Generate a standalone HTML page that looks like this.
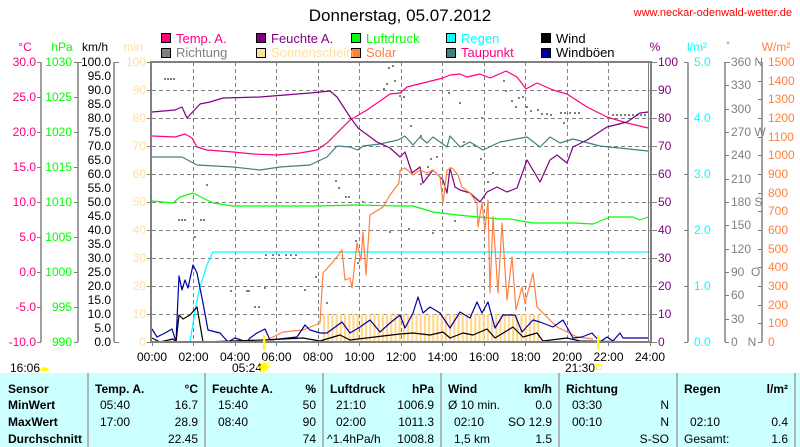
<!DOCTYPE html>
<html><head><meta charset="utf-8"><style>
html,body{margin:0;padding:0;background:#fff;}
svg{display:block;font-family:"Liberation Sans",sans-serif;}
</style></head><body>
<svg width="800" height="447" viewBox="0 0 800 447" xmlns="http://www.w3.org/2000/svg">
<defs>
<pattern id="sun" x="323" y="0" width="4.2" height="10" patternUnits="userSpaceOnUse">
<rect x="0" y="0" width="2.2" height="10" fill="#ffd890"/>
</pattern>
</defs>
<text x="400" y="21" font-size="17" text-anchor="middle" fill="#000">Donnerstag, 05.07.2012</text>
<text x="792" y="16" font-size="11" text-anchor="end" fill="#ff0000">www.neckar-odenwald-wetter.de</text>
<g font-size="13" stroke="#000" stroke-width="1">
<rect x="161.5" y="33.5" width="9" height="9" fill="#ff0080"/>
<rect x="161.5" y="48.5" width="9" height="9" fill="#808080"/>
<rect x="256.5" y="33.5" width="9" height="9" fill="#800080"/>
<rect x="256.5" y="48.5" width="9" height="9" fill="#ffe0a0"/>
<rect x="351.5" y="33.5" width="9" height="9" fill="#00ff00"/>
<rect x="351.5" y="48.5" width="9" height="9" fill="#ff8040"/>
<rect x="446.5" y="33.5" width="9" height="9" fill="#00ffff"/>
<rect x="446.5" y="48.5" width="9" height="9" fill="#408080"/>
<rect x="541.5" y="33.5" width="9" height="9" fill="#000"/>
<rect x="541.5" y="48.5" width="9" height="9" fill="#0000a0"/>
</g>
<g font-size="13">
<text x="176" y="43" fill="#ff0080">Temp. A.</text>
<text x="176" y="57" fill="#808080">Richtung</text>
<text x="271" y="43" fill="#800080">Feuchte A.</text>
<text x="271" y="57" fill="#ffe0a0">Sonnenschein</text>
<text x="366" y="43" fill="#00ff00">Luftdruck</text>
<text x="366" y="57" fill="#ff8040">Solar</text>
<text x="461" y="43" fill="#00ffff">Regen</text>
<text x="461" y="57" fill="#ff0080">Taupunkt</text>
<text x="556" y="43" fill="#000">Wind</text>
<text x="556" y="57" fill="#000">Windböen</text>
</g>
<g font-size="12">
<text x="25" y="51" fill="#ff0080" text-anchor="middle">°C</text>
<text x="62" y="51" fill="#00ff00" text-anchor="middle">hPa</text>
<text x="95" y="51" fill="#000" text-anchor="middle">km/h</text>
<text x="133" y="51" fill="#ffe0a0" text-anchor="middle">min</text>
<text x="655" y="51" fill="#800080" text-anchor="middle">%</text>
<text x="697" y="51" fill="#00ffff" text-anchor="middle">l/m²</text>
<text x="728" y="48" fill="#808080" text-anchor="middle" font-size="9">°</text>
<text x="776" y="51" fill="#ff8040" text-anchor="middle">W/m²</text>
</g>
<g stroke="#808080" stroke-width="1.5" fill="none">
<line x1="41" y1="62" x2="41" y2="342"/>
<line x1="78" y1="62" x2="78" y2="342"/>
<line x1="114" y1="62" x2="114" y2="342"/>
<line x1="688" y1="62" x2="688" y2="342"/>
<line x1="725" y1="62" x2="725" y2="342"/>
<line x1="762" y1="62" x2="762" y2="342"/>
</g>
<g font-size="12" text-anchor="end">
<g fill="#ff0080">
<text x="36" y="66">30.0</text><text x="36" y="101">25.0</text><text x="36" y="136">20.0</text><text x="36" y="171">15.0</text><text x="36" y="206">10.0</text><text x="36" y="241">5.0</text><text x="36" y="276">0.0</text><text x="36" y="311">-5.0</text><text x="36" y="346">-10.0</text>
</g>
<g fill="#00ff00">
<text x="72" y="66">1030</text><text x="72" y="101">1025</text><text x="72" y="136">1020</text><text x="72" y="171">1015</text><text x="72" y="206">1010</text><text x="72" y="241">1005</text><text x="72" y="276">1000</text><text x="72" y="311">995</text><text x="72" y="346">990</text>
</g>
<g fill="#000">
<text x="111" y="66">100.0</text><text x="111" y="80">95.0</text><text x="111" y="94">90.0</text><text x="111" y="108">85.0</text><text x="111" y="122">80.0</text><text x="111" y="136">75.0</text><text x="111" y="150">70.0</text><text x="111" y="164">65.0</text><text x="111" y="178">60.0</text><text x="111" y="192">55.0</text><text x="111" y="206">50.0</text><text x="111" y="220">45.0</text><text x="111" y="234">40.0</text><text x="111" y="248">35.0</text><text x="111" y="262">30.0</text><text x="111" y="276">25.0</text><text x="111" y="290">20.0</text><text x="111" y="304">15.0</text><text x="111" y="318">10.0</text><text x="111" y="332">5.0</text><text x="111" y="346">0.0</text>
</g>
<g fill="#ffe0a0">
<text x="146" y="66">100</text><text x="146" y="94">90</text><text x="146" y="122">80</text><text x="146" y="150">70</text><text x="146" y="178">60</text><text x="146" y="206">50</text><text x="146" y="234">40</text><text x="146" y="262">30</text><text x="146" y="290">20</text><text x="146" y="318">10</text><text x="146" y="346">0</text>
</g>
</g>
<g font-size="12">
<g fill="#800080">
<text x="658" y="66">100</text><text x="658" y="94">90</text><text x="658" y="122">80</text><text x="658" y="150">70</text><text x="658" y="178">60</text><text x="658" y="206">50</text><text x="658" y="234">40</text><text x="658" y="262">30</text><text x="658" y="290">20</text><text x="658" y="318">10</text><text x="658" y="346">0</text>
</g>
<g fill="#00ffff">
<text x="694" y="66">5.0</text><text x="694" y="122">4.0</text><text x="694" y="178">3.0</text><text x="694" y="234">2.0</text><text x="694" y="290">1.0</text><text x="694" y="346">0.0</text>
</g>
<g fill="#808080">
<text x="731" y="66">360 N</text><text x="731" y="89">330</text><text x="731" y="113">300</text><text x="731" y="136">270 W</text><text x="731" y="159">240</text><text x="731" y="183">210</text><text x="731" y="206">180 S</text><text x="731" y="229">150</text><text x="731" y="253">120</text><text x="731" y="276">90 &#160;O</text><text x="731" y="299">60</text><text x="731" y="323">30</text><text x="731" y="346">0 &#160;&#160;N</text>
</g>
<g fill="#ff8040">
<text x="768" y="66">1500</text><text x="768" y="85">1400</text><text x="768" y="103">1300</text><text x="768" y="122">1200</text><text x="768" y="141">1100</text><text x="768" y="159">1000</text><text x="768" y="178">900</text><text x="768" y="197">800</text><text x="768" y="215">700</text><text x="768" y="234">600</text><text x="768" y="253">500</text><text x="768" y="271">400</text><text x="768" y="290">300</text><text x="768" y="309">200</text><text x="768" y="327">100</text><text x="768" y="346">0</text>
</g>
</g>
<g stroke="#808080" stroke-width="1">
<path d="M37 62.5h4M37 97.5h4M37 132.5h4M37 167.5h4M37 202.5h4M37 237.5h4M37 272.5h4M37 307.5h4M37 342.5h4"/>
<path d="M74 62.5h8M74 97.5h4M74 132.5h4M74 167.5h4M74 202.5h4M74 237.5h4M74 272.5h4M74 307.5h4M74 342.5h4"/>
<path d="M114 62.5h5M114 342.5h5"/>
<path d="M147 62.5h4M147 90.5h4M147 118.5h4M147 146.5h4M147 174.5h4M147 202.5h4M147 230.5h4M147 258.5h4M147 286.5h4M147 314.5h4M147 342.5h4"/>
<path d="M652 62.5h5M652 90.5h5M652 118.5h5M652 146.5h5M652 174.5h5M652 202.5h5M652 230.5h5M652 258.5h5M652 286.5h5M652 314.5h5M652 342.5h5"/>
<path d="M684 62.5h4M684 118.5h4M684 174.5h4M684 230.5h4M684 286.5h4M684 342.5h4"/>
<path d="M725 62.5h5M725 85.5h4M725 109.5h4M725 132.5h4M725 155.5h4M725 179.5h4M725 202.5h4M725 225.5h4M725 249.5h4M725 272.5h4M725 295.5h4M725 319.5h4M725 342.5h4"/>
<path d="M758 62.5h4M758 81.5h4M758 99.5h4M758 118.5h4M758 137.5h4M758 155.5h4M758 174.5h4M758 193.5h4M758 211.5h4M758 230.5h4M758 249.5h4M758 267.5h4M758 286.5h4M758 305.5h4M758 323.5h4M758 342.5h4"/>
<path d="M152.5 342v4M193.5 342v4M235.5 342v4M276.5 342v4M318.5 342v4M359.5 342v4M401.5 342v4M442.5 342v4M484.5 342v4M525.5 342v4M567.5 342v4M608.5 342v4M650.5 342v4"/>
</g>
<g stroke="#808080" stroke-width="1" stroke-dasharray="4,3" shape-rendering="crispEdges">
<path d="M152 90.5h498M152 118.5h498M152 146.5h498M152 174.5h498M152 202.5h498M152 230.5h498M152 258.5h498M152 286.5h498M152 314.5h498"/>
<path d="M193.5 62v280M235.5 62v280M276.5 62v280M318.5 62v280M359.5 62v280M401.5 62v280M442.5 62v280M484.5 62v280M525.5 62v280M567.5 62v280M608.5 62v280"/>
</g>
<rect x="323" y="314" width="218" height="28" fill="url(#sun)"/>
<g fill="#808080">
<rect x="164" y="78" width="2" height="2"/><rect x="167" y="78" width="2" height="2"/><rect x="170" y="78" width="2" height="2"/><rect x="173" y="78" width="2" height="2"/>
<rect x="178" y="219" width="2" height="2"/><rect x="181" y="219" width="2" height="2"/><rect x="184" y="219" width="2" height="2"/><rect x="200" y="219" width="2" height="2"/><rect x="203" y="219" width="2" height="2"/>
<rect x="206" y="184" width="2" height="2"/><rect x="194" y="236" width="2" height="2"/>
<rect x="265" y="254" width="2" height="2"/><rect x="272" y="254" width="2" height="2"/><rect x="278" y="254" width="2" height="2"/><rect x="285" y="254" width="2" height="2"/><rect x="290" y="254" width="2" height="2"/><rect x="295" y="254" width="2" height="2"/>
<rect x="264" y="287" width="2" height="2"/><rect x="246" y="290" width="2" height="2"/><rect x="230" y="290" width="2" height="2"/><rect x="248" y="290" width="2" height="2"/>
<rect x="254" y="306" width="2" height="2"/><rect x="258" y="306" width="2" height="2"/>
<rect x="304" y="289" width="2" height="2"/><rect x="315" y="276" width="2" height="2"/><rect x="326" y="302" width="2" height="2"/>
<rect x="335" y="180" width="2" height="2"/><rect x="338" y="187" width="2" height="2"/><rect x="345" y="196" width="2" height="2"/><rect x="348" y="196" width="2" height="2"/><rect x="355" y="240" width="2" height="2"/><rect x="357" y="262" width="2" height="2"/><rect x="362" y="201" width="2" height="2"/>
<rect x="388" y="67" width="2" height="2"/><rect x="392" y="65" width="2" height="2"/><rect x="386" y="83" width="2" height="2"/><rect x="383" y="88" width="2" height="2"/><rect x="394" y="80" width="2" height="2"/>
<rect x="399" y="95" width="2" height="2"/><rect x="403" y="96" width="2" height="2"/><rect x="410" y="125" width="2" height="2"/><rect x="420" y="135" width="2" height="2"/><rect x="430" y="158" width="2" height="2"/><rect x="427" y="166" width="2" height="2"/><rect x="420" y="183" width="2" height="2"/><rect x="436" y="156" width="2" height="2"/>
<rect x="448" y="92" width="2" height="2"/><rect x="459" y="102" width="2" height="2"/><rect x="463" y="141" width="2" height="2"/><rect x="473" y="144" width="2" height="2"/><rect x="480" y="158" width="2" height="2"/><rect x="487" y="181" width="2" height="2"/><rect x="492" y="172" width="2" height="2"/><rect x="481" y="117" width="2" height="2"/>
<rect x="505" y="90" width="2" height="2"/><rect x="503" y="80" width="2" height="2"/><rect x="511" y="100" width="2" height="2"/><rect x="515" y="106" width="2" height="2"/><rect x="518" y="97" width="2" height="2"/><rect x="522" y="96" width="2" height="2"/>
<rect x="526" y="106" width="2" height="2"/><rect x="530" y="110" width="2" height="2"/><rect x="537" y="109" width="2" height="2"/><rect x="541" y="113" width="2" height="2"/><rect x="546" y="113" width="2" height="2"/><rect x="550" y="114" width="2" height="2"/>
<rect x="560" y="112" width="2" height="2"/><rect x="564" y="112" width="2" height="2"/><rect x="569" y="112" width="2" height="2"/><rect x="574" y="112" width="2" height="2"/><rect x="578" y="112" width="2" height="2"/><rect x="563" y="122" width="2" height="2"/>
<rect x="612" y="114" width="2" height="2"/><rect x="616" y="114" width="2" height="2"/><rect x="620" y="114" width="2" height="2"/><rect x="624" y="114" width="2" height="2"/><rect x="628" y="114" width="2" height="2"/><rect x="632" y="114" width="2" height="2"/><rect x="636" y="114" width="2" height="2"/><rect x="640" y="114" width="2" height="2"/><rect x="644" y="114" width="2" height="2"/>
<rect x="408" y="228" width="2" height="2"/><rect x="432" y="232" width="2" height="2"/><rect x="454" y="220" width="2" height="2"/><rect x="389" y="231" width="2" height="2"/>
</g>
<g fill="none" stroke-width="1.2" stroke-linejoin="round">
<polyline stroke="#00ffff" points="190,342 196,305 200,287 207,265 213,252 650,252"/>
<polyline stroke="#00ff00" points="152,201 173,203 180,197 193,193 213,203 233,206 317,206 357,205 400,206 413,206 433,212 457,215 500,219 510,219 533,223 573,223 593,224 610,217 633,217 640,220 648,217"/>
<polyline stroke="#408080" points="152,157 182,157 197,165 233,167 260,170 280,167 310,165 327,157 337,146 350,147 358,150 363,146 380,144 398,140 405,136 413,145 420,137 427,143 433,137 447,147 450,136 460,147 470,142 483,150 500,142 527,137 540,147 550,137 560,143 573,139 600,146 648,151"/>
<polyline stroke="#ff0080" points="152,136 175,137 185,134 192,138 197,147 207,150 233,152 253,154 277,155 300,153 317,150 327,143 350,120 367,110 390,94 400,93 407,87 423,83 443,78 450,75 460,74 467,77 480,74 490,78 497,75 506,71 517,77 526,89 537,83 553,90 567,94 587,107 607,117 627,123 648,128"/>
<polyline stroke="#800080" points="152,112 175,110 182,107 187,118 200,104 210,102 223,98 260,97 310,93 330,91 337,97 350,117 358,128 377,142 390,148 400,157 405,152 412,173 420,167 423,183 433,170 443,180 447,193 450,168 455,187 460,190 470,193 480,202 487,192 497,187 507,192 517,188 527,160 540,182 550,160 557,155 567,163 573,147 587,140 607,127 627,122 640,113 648,112"/>
<polyline stroke="#ff8040" points="263,342 283,332 303,330 320,323 323,273 332,263 342,250 345,280 350,278 352,288 357,243 361,260 363,232 366,275 370,215 383,207 390,195 399,183 400,170 405,168 413,175 420,170 427,173 433,170 440,177 443,203 447,170 452,168 458,175 462,187 470,193 477,203 478,227 482,203 485,230 488,200 490,293 493,217 498,293 502,223 507,300 512,257 516,310 522,287 525,303 533,273 537,307 547,317 557,327 567,332 577,337 593,339"/>
<polyline stroke="#0000a0" points="152,329 157,337 165,333 172,329 176,342 179,276 182,290 185,280 188,288 193,265 197,273 203,303 208,330 220,333 228,342 235,338 247,342 250,338 257,333 265,329 270,340 297,337 305,325 310,330 320,333 327,333 342,322 350,333 360,327 370,320 380,332 390,323 400,315 405,328 413,313 418,297 423,313 430,307 440,313 450,328 460,312 470,318 477,302 482,313 488,302 495,328 503,315 515,315 522,332 533,320 540,322 553,327 563,320 573,338 582,337 592,333 600,342 607,337 613,341 620,333 623,338 648,338"/>
<polyline stroke="#000" points="152,338 160,342 173,339 176,342 179,315 183,319 190,315 197,307 203,342 263,340 303,338 320,341 340,335 350,340 383,336 400,334 413,333 430,335 443,332 450,338 463,333 473,335 487,329 495,338 513,327 523,337 537,333 543,341 567,338 580,341 650,342"/>
</g>
<rect x="151" y="62" width="500" height="280" fill="none" stroke="#808080" stroke-width="2"/>
<line x1="648.5" y1="62" x2="648.5" y2="342" stroke="#808080" stroke-width="1"/>
<rect x="263" y="335" width="2.5" height="15" fill="#ffff00"/>
<rect x="597" y="335" width="2.5" height="15" fill="#ffff00"/>
<g font-size="12" text-anchor="middle" fill="#000">
<text x="152" y="361">00:00</text><text x="193.5" y="361">02:00</text><text x="235" y="361">04:00</text><text x="276.5" y="361">06:00</text><text x="318" y="361">08:00</text><text x="359.5" y="361">10:00</text><text x="401" y="361">12:00</text><text x="442.5" y="361">14:00</text><text x="484" y="361">16:00</text><text x="525.5" y="361">18:00</text><text x="567" y="361">20:00</text><text x="608.5" y="361">22:00</text><text x="650" y="361">24:00</text>
<text x="25" y="372">16:06</text><text x="247" y="372">05:24</text><text x="580" y="372">21:30</text>
</g>
<path d="M40 371a4 3.5 0 0 1 9 0z" fill="#ffff00"/>
<circle cx="264" cy="367" r="4" fill="#ffff00"/>
<g stroke="#ffff00" stroke-width="1"><path d="M264 360v14M257 367h14M259 362l10 10M269 362l-10 10"/></g>
<rect x="596.5" y="364.5" width="5" height="5" fill="none" stroke="#ffff00"/>
<rect x="0" y="373" width="800" height="74" fill="#ccffff"/>
<g stroke="#a0a0a0" stroke-width="1.5">
<line x1="88" y1="373" x2="88" y2="447"/><line x1="205" y1="373" x2="205" y2="447"/><line x1="323" y1="373" x2="323" y2="447"/><line x1="441" y1="373" x2="441" y2="447"/><line x1="559" y1="373" x2="559" y2="447"/><line x1="677" y1="373" x2="677" y2="447"/><line x1="795" y1="373" x2="795" y2="447"/>
</g>
<g font-size="12" fill="#000">
<g font-weight="bold">
<text x="8" y="393">Sensor</text><text x="8" y="409">MinWert</text><text x="8" y="426">MaxWert</text><text x="8" y="443">Durchschnitt</text>
<text x="95" y="393">Temp. A.</text><text x="198" y="393" text-anchor="end">°C</text>
<text x="212" y="393">Feuchte A.</text><text x="316" y="393" text-anchor="end">%</text>
<text x="330" y="393">Luftdruck</text><text x="434" y="393" text-anchor="end">hPa</text>
<text x="448" y="393">Wind</text><text x="552" y="393" text-anchor="end">km/h</text>
<text x="566" y="393">Richtung</text>
<text x="684" y="393">Regen</text><text x="788" y="393" text-anchor="end">l/m²</text>
</g>
<text x="100" y="409">05:40</text><text x="198" y="409" text-anchor="end">16.7</text>
<text x="100" y="426">17:00</text><text x="198" y="426" text-anchor="end">28.9</text>
<text x="198" y="443" text-anchor="end">22.45</text>
<text x="218" y="409">15:40</text><text x="316" y="409" text-anchor="end">50</text>
<text x="218" y="426">08:40</text><text x="316" y="426" text-anchor="end">90</text>
<text x="316" y="443" text-anchor="end">74</text>
<text x="336" y="409">21:10</text><text x="434" y="409" text-anchor="end">1006.9</text>
<text x="336" y="426">02:00</text><text x="434" y="426" text-anchor="end">1011.3</text>
<text x="327" y="443">^1.4hPa/h</text><text x="434" y="443" text-anchor="end">1008.8</text>
<text x="448" y="409">Ø 10 min.</text><text x="552" y="409" text-anchor="end">0.0</text>
<text x="454" y="426">02:10</text><text x="552" y="426" text-anchor="end">SO 12.9</text>
<text x="454" y="443">1,5 km</text><text x="552" y="443" text-anchor="end">1.5</text>
<text x="572" y="409">03:30</text><text x="669" y="409" text-anchor="end">N</text>
<text x="572" y="426">00:10</text><text x="669" y="426" text-anchor="end">N</text>
<text x="669" y="443" text-anchor="end">S-SO</text>
<text x="690" y="426">02:10</text><text x="788" y="426" text-anchor="end">0.4</text>
<text x="684" y="443">Gesamt:</text><text x="788" y="443" text-anchor="end">1.6</text>
</g>
</svg>
</body></html>
